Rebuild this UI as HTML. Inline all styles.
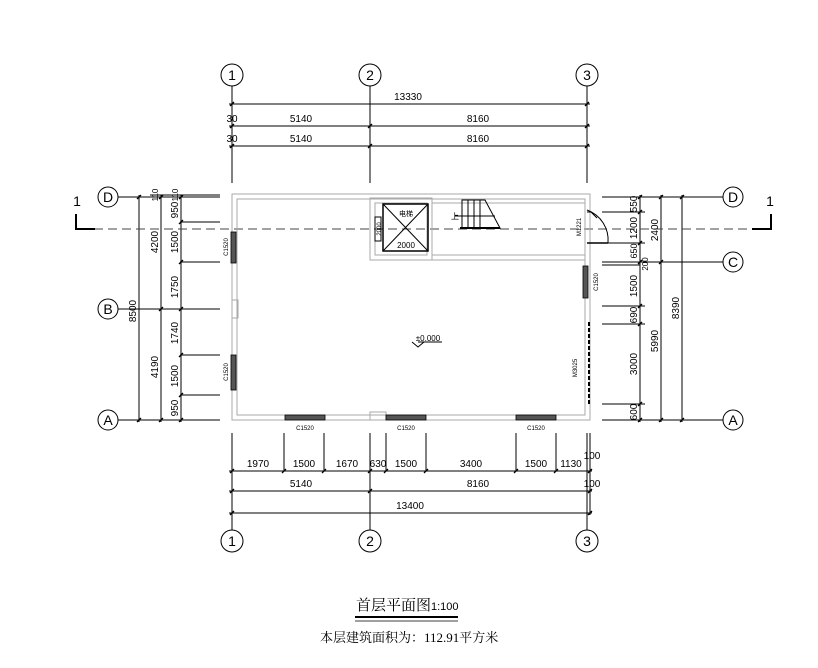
<!DOCTYPE html>
<html><head><meta charset="utf-8"><style>
html,body{margin:0;padding:0;background:#fff;}
svg{display:block;}
text{font-family:"Liberation Sans","Noto Sans CJK SC",sans-serif;fill:#000;}
</style></head><body>
<svg width="818" height="668" viewBox="0 0 818 668" xmlns="http://www.w3.org/2000/svg">
<g stroke="#000" stroke-width="1" fill="none">
<circle cx="232" cy="75" r="11"/><circle cx="370" cy="75" r="11"/><circle cx="587" cy="75" r="11"/>
<line x1="232" y1="86" x2="232" y2="183"/><line x1="370" y1="86" x2="370" y2="183"/><line x1="587" y1="86" x2="587" y2="183"/>
<line x1="229" y1="104" x2="590" y2="104"/><line x1="229" y1="126" x2="590" y2="126"/><line x1="229" y1="146" x2="590" y2="146"/>
<circle cx="232" cy="541" r="11"/><circle cx="370" cy="541" r="11"/><circle cx="587" cy="541" r="11"/>
<line x1="232" y1="433" x2="232" y2="530"/><line x1="370" y1="433" x2="370" y2="530"/><line x1="587" y1="433" x2="587" y2="530"/><line x1="590" y1="433" x2="590" y2="515"/>
<line x1="229" y1="471" x2="592" y2="471"/><line x1="229" y1="491" x2="592" y2="491"/><line x1="229" y1="513" x2="592" y2="513"/>
<g><line x1="284" y1="433" x2="284" y2="471"/><line x1="324" y1="433" x2="324" y2="471"/><line x1="386" y1="433" x2="386" y2="471"/><line x1="426" y1="433" x2="426" y2="471"/><line x1="516" y1="433" x2="516" y2="471"/><line x1="556" y1="433" x2="556" y2="471"/></g>
<circle cx="108" cy="197" r="10"/><circle cx="108" cy="309" r="10"/><circle cx="108" cy="420" r="10"/>
<line x1="118" y1="197" x2="220" y2="197" /><line x1="150" y1="195" x2="220" y2="195"/>
<line x1="118" y1="309" x2="220" y2="309"/><line x1="118" y1="420" x2="220" y2="420"/>
<line x1="139" y1="195" x2="139" y2="422"/><line x1="161" y1="195" x2="161" y2="422"/><line x1="181" y1="195" x2="181" y2="422"/>
<line x1="180" y1="222" x2="220" y2="222"/><line x1="180" y1="262" x2="220" y2="262"/><line x1="180" y1="355" x2="220" y2="355"/><line x1="180" y1="395" x2="220" y2="395"/>
<circle cx="733" cy="197" r="10"/><circle cx="733" cy="262" r="10"/><circle cx="733" cy="420" r="10"/>
<line x1="602" y1="197" x2="723" y2="197"/><line x1="602" y1="262" x2="723" y2="262"/><line x1="602" y1="420" x2="723" y2="420"/>
<line x1="602" y1="265" x2="640" y2="265"/>
<line x1="640" y1="195" x2="640" y2="422"/><line x1="661" y1="195" x2="661" y2="422"/><line x1="682" y1="195" x2="682" y2="422"/>
<line x1="602" y1="212" x2="645" y2="212"/><line x1="602" y1="243" x2="645" y2="243"/><line x1="602" y1="306" x2="645" y2="306"/><line x1="602" y1="324" x2="645" y2="324"/><line x1="602" y1="404" x2="645" y2="404"/>
<line x1="80" y1="229" x2="755" y2="229" stroke="#444" stroke-dasharray="9,5"/>
<path d="M76 214 V229 H95" stroke-width="2"/><path d="M771 214 V229 H752" stroke-width="2"/>
<!-- ticks -->
<g stroke-width="1.3">
<path d="M230 106 l4 -4 M230 128 l4 -4 M368 128 l4 -4 M585 128 l4 -4 M230 148 l4 -4 M368 148 l4 -4 M585 148 l4 -4 M585 106 l4 -4"/>
<path d="M230 473 l4 -4 M282 473 l4 -4 M322 473 l4 -4 M368 473 l4 -4 M384 473 l4 -4 M424 473 l4 -4 M514 473 l4 -4 M554 473 l4 -4 M588 473 l4 -4 M230 493 l4 -4 M368 493 l4 -4 M588 493 l4 -4 M230 515 l4 -4 M588 515 l4 -4"/>
<path d="M137 199 l4 -4 M137 422 l4 -4 M159 199 l4 -4 M159 311 l4 -4 M159 422 l4 -4 M179 199 l4 -4 M179 224 l4 -4 M179 264 l4 -4 M179 311 l4 -4 M179 357 l4 -4 M179 397 l4 -4 M179 422 l4 -4"/>
<path d="M638 199 l4 -4 M638 214 l4 -4 M638 245 l4 -4 M638 264 l4 -4 M638 308 l4 -4 M638 326 l4 -4 M638 406 l4 -4 M638 422 l4 -4 M659 199 l4 -4 M659 264 l4 -4 M659 422 l4 -4 M680 199 l4 -4 M680 422 l4 -4"/>
</g>
</g>
<g fill="none" stroke="#aaa" stroke-width="1">
<rect x="232" y="194" width="358" height="226"/>
<rect x="237" y="199" width="348" height="216"/>
<rect x="370" y="198" width="62" height="62"/><rect x="375" y="203" width="52" height="52"/>
<line x1="432" y1="203" x2="585" y2="203"/><line x1="432" y1="255" x2="585" y2="255"/><line x1="432" y1="260" x2="585" y2="260"/>
<rect x="232" y="300" width="6" height="18"/><rect x="370" y="412" width="16" height="8"/>
</g>
<g stroke="#000" fill="none">
<rect x="383" y="204" width="45" height="47" stroke-width="1.5"/>
<line x1="383" y1="204" x2="428" y2="251"/><line x1="428" y1="204" x2="383" y2="251"/>
<rect x="375" y="217" width="6" height="24"/>
<path d="M462 200 H485 L500 228 H462 Z"/><line x1="462" y1="200" x2="462" y2="228"/><line x1="468" y1="200" x2="468" y2="228"/><line x1="474" y1="200" x2="474" y2="228"/><line x1="480" y1="200" x2="480" y2="228"/>
<line x1="455" y1="216" x2="495" y2="216"/><line x1="460" y1="228" x2="500" y2="228" stroke-width="2"/>
<path d="M587 212 H591 L597 218"/><line x1="587" y1="243" x2="608" y2="243" stroke-width="1.5"/><path d="M587 210 A32 32 0 0 1 608 243"/>
<line x1="589" y1="322" x2="589" y2="405" stroke-dasharray="4,2" stroke-width="2"/>
</g>
<g fill="#555" stroke="#000" stroke-width="0.8">
<rect x="231" y="232" width="5" height="31"/><rect x="231" y="355" width="5" height="35"/>
<rect x="285" y="415" width="40" height="5"/><rect x="386" y="415" width="40" height="5"/><rect x="516" y="415" width="40" height="5"/>
<rect x="583" y="266" width="5" height="32"/>
</g>
<path d="M412 342 L418 347 L424 342" fill="none" stroke="#000"/><line x1="418" y1="342" x2="442" y2="342" stroke="#000"/>
<g font-size="10" text-anchor="middle">
<text x="408" y="100">13330</text>
<text x="301" y="122">5140</text><text x="478" y="122">8160</text>
<text x="301" y="142">5140</text><text x="478" y="142">8160</text>
<text x="232" y="122">30</text><text x="232" y="142">30</text>
<text x="258" y="467">1970</text><text x="304" y="467">1500</text><text x="347" y="467">1670</text><text x="378" y="467">630</text><text x="406" y="467">1500</text><text x="471" y="467">3400</text><text x="536" y="467">1500</text><text x="571" y="467">1130</text><text x="592" y="459">100</text>
<text x="301" y="487">5140</text><text x="478" y="487">8160</text><text x="592" y="487">100</text>
<text x="410" y="509">13400</text>
<g style="font-family:'Liberation Serif',serif;font-size:14px"><text x="232" y="80">1</text><text x="370" y="80">2</text><text x="587" y="80">3</text><text x="232" y="546">1</text><text x="370" y="546">2</text><text x="587" y="546">3</text>
<text x="108" y="202">D</text><text x="108" y="314">B</text><text x="108" y="425">A</text><text x="733" y="202">D</text><text x="733" y="267">C</text><text x="733" y="425">A</text>
<text x="77" y="206">1</text><text x="770" y="206">1</text></g>
<text x="428" y="341" font-size="8">±0.000</text>
<text x="406" y="248" font-size="8">2000</text><text x="406" y="216" font-size="7">电梯</text>
<text x="455" y="219" font-size="8">上</text>
<text x="305" y="430" font-size="6">C1520</text><text x="406" y="430" font-size="6">C1520</text><text x="536" y="430" font-size="6">C1520</text>
</g>
<g font-size="10" text-anchor="middle">
<text transform="translate(136,311) rotate(-90)">8500</text>
<text transform="translate(158,242) rotate(-90)">4200</text><text transform="translate(158,367) rotate(-90)">4190</text>
<text transform="translate(178,210) rotate(-90)">950</text><text transform="translate(178,242) rotate(-90)">1500</text><text transform="translate(178,287) rotate(-90)">1750</text><text transform="translate(178,333) rotate(-90)">1740</text><text transform="translate(178,376) rotate(-90)">1500</text><text transform="translate(178,408) rotate(-90)">950</text>
<text transform="translate(158,195) rotate(-90)" font-size="8">110</text><text transform="translate(178,195) rotate(-90)" font-size="8">110</text>
<text transform="translate(637,204) rotate(-90)">550</text><text transform="translate(637,228) rotate(-90)">1200</text><text transform="translate(637,251) rotate(-90)" font-size="9">650</text><text transform="translate(648,264) rotate(-90)" font-size="8">200</text><text transform="translate(637,286) rotate(-90)">1500</text><text transform="translate(637,315) rotate(-90)">690</text><text transform="translate(637,364) rotate(-90)">3000</text><text transform="translate(637,412) rotate(-90)">600</text>
<text transform="translate(658,230) rotate(-90)">2400</text><text transform="translate(658,341) rotate(-90)">5990</text><text transform="translate(679,308) rotate(-90)">8390</text>
<g font-size="6"><text transform="translate(228,247) rotate(-90)">C1520</text><text transform="translate(228,372) rotate(-90)">C1520</text><text transform="translate(598,282) rotate(-90)">C1520</text><text transform="translate(581,227) rotate(-90)">M1221</text><text transform="translate(577,368) rotate(-90)">M3025</text><text transform="translate(381,229) rotate(-90)">2000</text></g>
</g>
<text x="356" y="610" style="font-size:15px;font-family:'Liberation Serif','Noto Serif CJK SC',serif">首层平面图</text>
<text x="431" y="610" font-size="11">1:100</text>
<line x1="355" y1="617" x2="458" y2="617" stroke="#000" stroke-width="2"/><line x1="355" y1="621" x2="458" y2="621" stroke="#000" stroke-width="0.8"/>
<text x="320" y="642" style="font-size:13px;font-family:'Liberation Serif','Noto Serif CJK SC',serif">本层建筑面积为：112.91平方米</text>
</svg>
</body></html>
